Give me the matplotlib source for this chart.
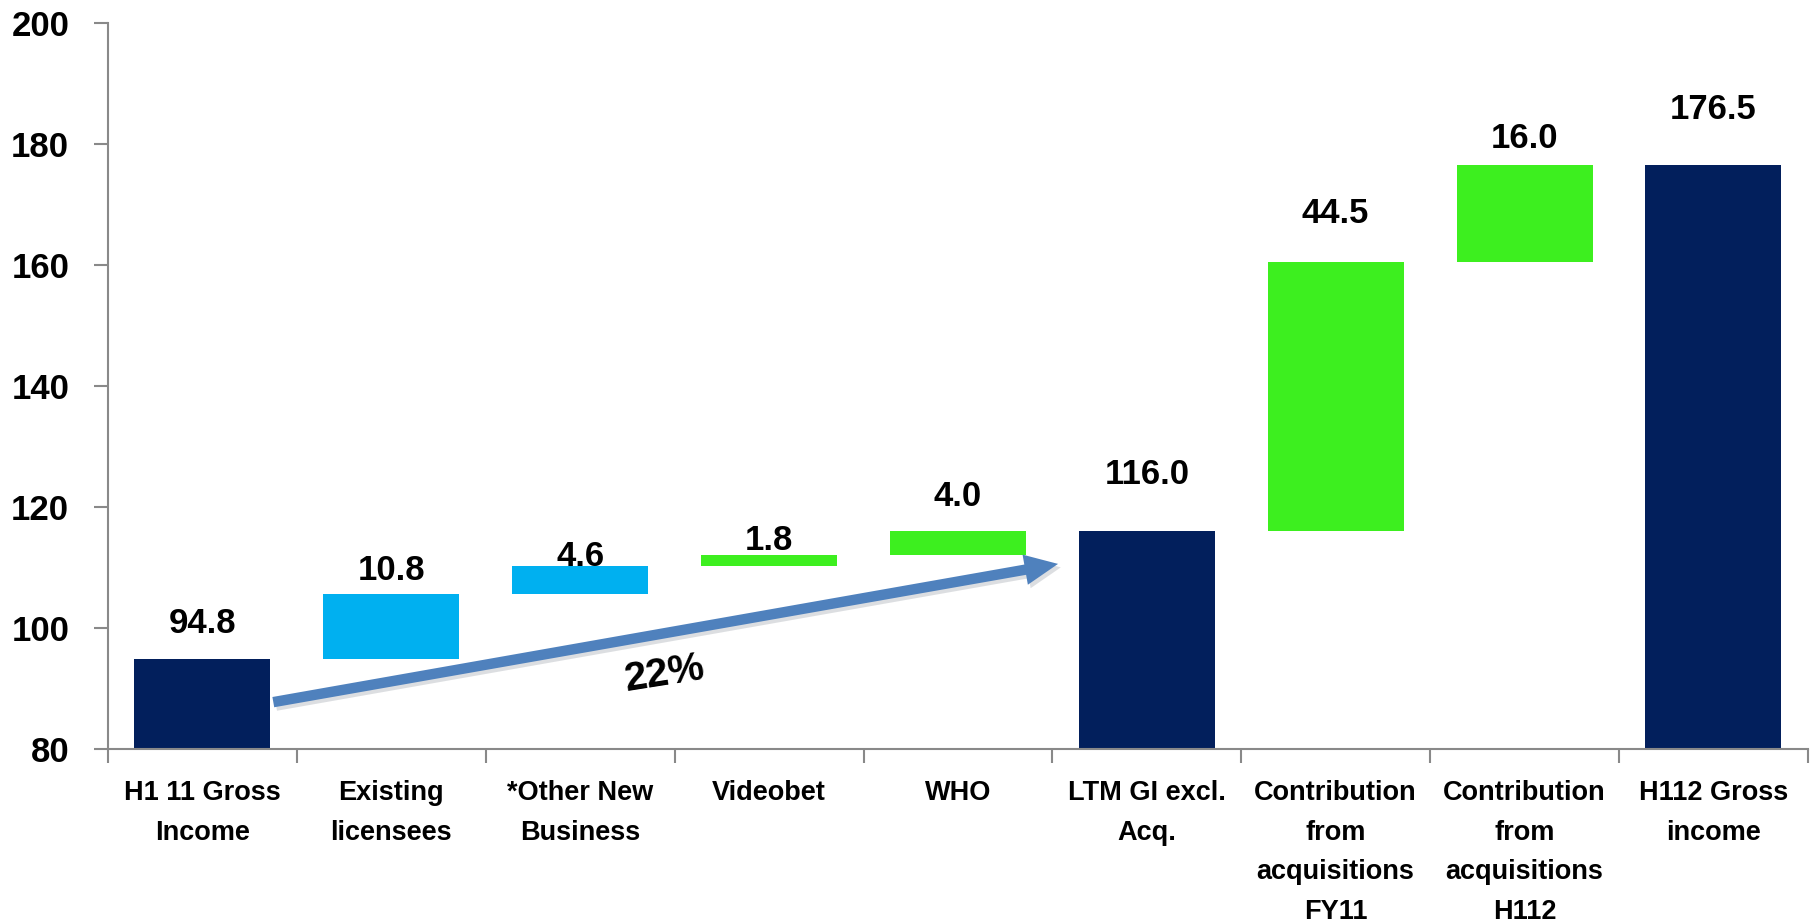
import matplotlib
matplotlib.use("Agg")
import matplotlib.pyplot as plt
import matplotlib.patheffects as pe
from matplotlib.patches import FancyArrowPatch
import numpy as np

plt.rcParams['font.family'] = ['Liberation Sans', 'DejaVu Sans']
plt.rcParams['font.weight'] = 'bold'

categories = ["H1 11 Gross\nIncome", "Existing\nlicensees", "*Other New\nBusiness",
              "Videobet", "WHO", "LTM GI excl.\nAcq.",
              "Contribution\nfrom\nacquisitions\nFY11",
              "Contribution\nfrom\nacquisitions\nH112", "H112 Gross\nincome"]
values = [94.8, 10.8, 4.6, 1.8, 4.0, 116.0, 44.5, 16.0, 176.5]
kinds = ["total", "step", "step", "step", "step", "total", "step", "step", "total"]
growth_label = "22%"

navy = "#021F5C"
cyan = "#00B0F0"
green = "#3DEF1F"
bar_colors = [navy, cyan, cyan, green, green, navy, green, green, navy]
# vertical gap (points) between bar top and its value label
label_pad = [26, 17, 7, 11, 25, 41, 35, 19, 40]

# waterfall bottoms / tops
bottoms = []
running = 0.0
for v, k in zip(values, kinds):
    if k == "total":
        bottoms.append(0.0)
        running = v
    else:
        bottoms.append(running)
        running += v
bottoms = np.array(bottoms)
tops = bottoms + np.array(values)

fig = plt.figure(figsize=(18.16, 9.23), dpi=100)
ax = fig.add_axes([0.0595, 0.1885, 0.936, 0.7865])

x = np.arange(len(values))
ax.bar(x, values, bottom=bottoms, width=0.72, color=bar_colors, zorder=2)

for i in range(len(values)):
    ax.annotate(f"{values[i]:.1f}", xy=(x[i], tops[i]), xytext=(0, label_pad[i]),
                textcoords="offset points", ha="center", va="center",
                fontsize=25, fontweight="bold", color="black", zorder=4)

ax.set_xlim(-0.5, len(values) - 0.5)
ax.set_ylim(80, 200)
ax.set_yticks(np.arange(80, 201, 20))

ax.set_xticks(x)
ax.set_xticklabels(categories, fontsize=19.5, fontweight="bold", linespacing=1.68)
ax.set_xticks(np.arange(-0.5, len(values)), minor=True)
ax.tick_params(axis="x", which="major", length=0, pad=22.5)
ax.tick_params(axis="x", which="minor", length=10, width=1.5, color="#898989", direction="out")
ax.tick_params(axis="y", length=10, width=1.5, color="#898989", pad=18, labelsize=25)
for lab in ax.get_yticklabels():
    lab.set_fontweight("bold")

for s in ["top", "right"]:
    ax.spines[s].set_visible(False)
for s in ["left", "bottom"]:
    ax.spines[s].set_color("#898989")
    ax.spines[s].set_linewidth(1.5)

# growth arrow from first total to the LTM total
arrow_start = (0.375, 87.75)
arrow_end = (4.53, 110.6)
arrow = FancyArrowPatch(arrow_start, arrow_end,
                        arrowstyle="simple,head_length=2.4,head_width=2.2,tail_width=0.75",
                        mutation_scale=10, facecolor="#4F81BD", edgecolor="none",
                        shrinkA=0, shrinkB=0, zorder=3,
                        path_effects=[pe.SimplePatchShadow(offset=(2, -2.5), alpha=0.15),
                                      pe.Normal()])
ax.add_patch(arrow)
ax.text(2.45, 92.5, growth_label, fontsize=29, fontweight="bold",
        rotation=9, ha="center", va="center", zorder=4)

fig.savefig("out.png", dpi=100)
